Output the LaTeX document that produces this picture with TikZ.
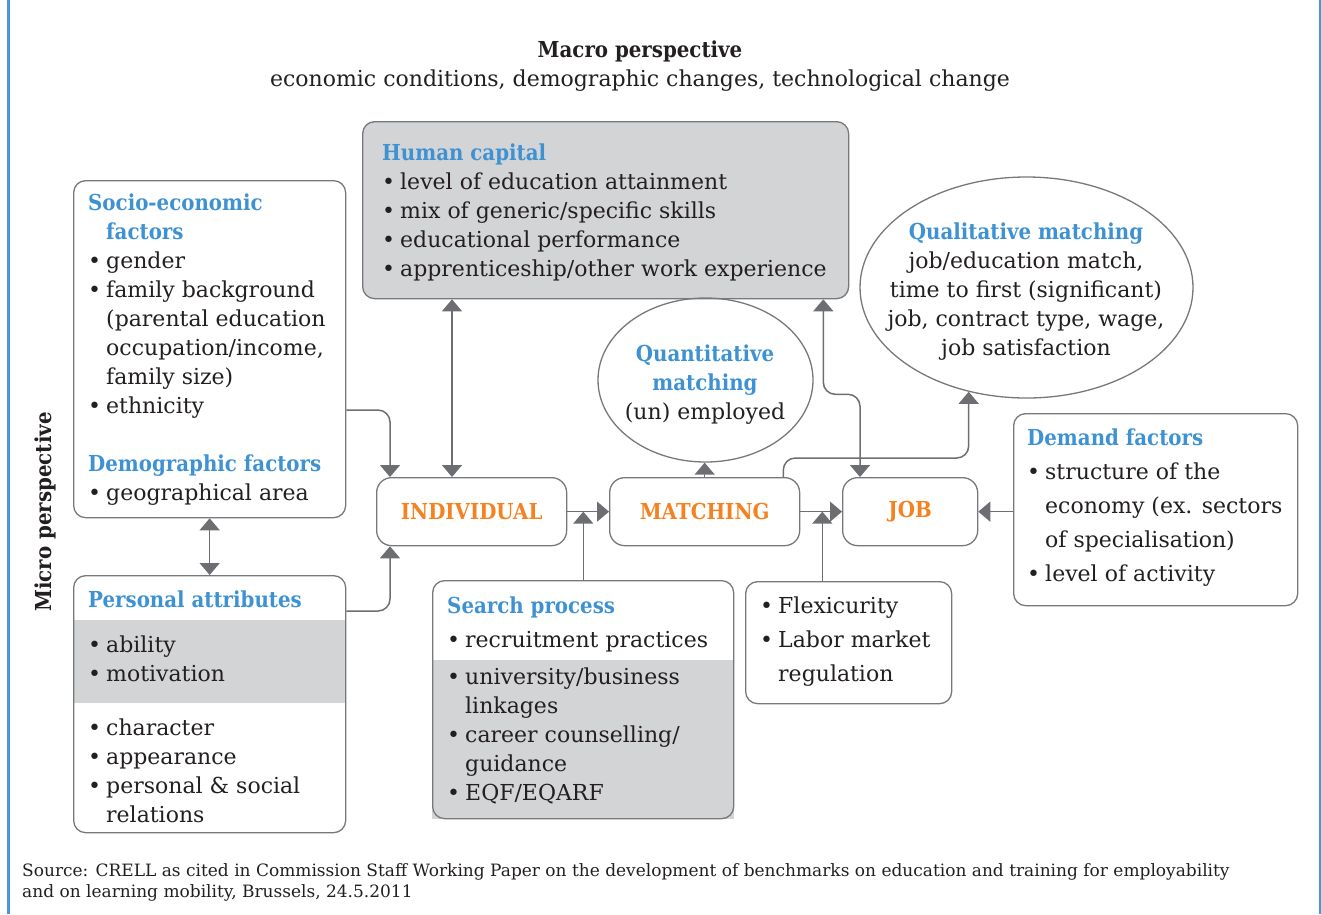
\documentclass[tikz,border=0pt]{standalone}
\usepackage{fontspec}
\setmainfont{DejaVu Serif}
\newfontfamily\hd[FakeStretch=0.9]{DejaVu Serif}
\usetikzlibrary{arrows.meta,shapes.geometric}
\definecolor{hblue}{HTML}{3F92D2}
\definecolor{framblue}{HTML}{4C96D7}
\definecolor{orng}{HTML}{F58220}
\definecolor{bandgray}{HTML}{D3D4D6}
\definecolor{linegray}{HTML}{6D6E71}
\definecolor{bordgray}{HTML}{77787B}
\definecolor{ink}{HTML}{231F20}
% list helpers
\newcommand\itm{\makebox[18pt][l]{\textbullet}}
\newcommand\ind{\hspace*{18pt}}
\newcommand\hdg[1]{{\hd\bfseries\color{hblue}#1}}
\newcommand\lines[1]{\begin{tabular}[t]{@{}l@{}}#1\end{tabular}}
\newcommand\clines[1]{\begin{tabular}[t]{@{}c@{}}#1\end{tabular}}
\begin{document}
\begin{tikzpicture}[x=1pt,y=-1pt,
  >={Triangle[width=20pt,length=12pt]},
  box/.style={draw=bordgray, line width=1.3pt, rounded corners=12pt, inner sep=0pt, anchor=north west},
  mainbox/.style={box, rounded corners=15pt, text=orng, font=\hd\bfseries\fontsize{22}{26}\selectfont},
  oval/.style={ellipse, draw=bordgray, line width=1.3pt, inner sep=0pt},
  conn/.style={draw=linegray, fill=none, line width=1.5pt, rounded corners=12pt},
  txt/.style={inner sep=0pt, anchor=base west, text=ink, font=\fontsize{22}{29}\selectfont},
  wide/.style={font=\fontsize{22}{34}\selectfont},
  ttl/.style={inner sep=0pt, text=ink, font=\hd\bfseries\fontsize{22}{26}\selectfont}]
\useasboundingbox (0,0) rectangle (1321,914);

% page frame
\draw[framblue, line width=3pt] (8,0) -- (8,914);
\draw[framblue, line width=3pt] (1320,0) -- (1320,914);

% headings
\node[ttl, anchor=base] (macro) at (640,57) {Macro perspective};
\node[txt, anchor=base] (macrosub) at (640,86) {economic conditions, demographic changes, technological change};
\node[ttl, rotate=90] (micro) at (45,512) {Micro perspective};

% human capital
\node[box, fill=bandgray, minimum width=486pt, minimum height=177pt] (human) at (362,121) {};
\node[txt] (humanT) at (382,160) {\lines{\hdg{Human capital}\\
  \itm level of education attainment\\
  \itm mix of generic/specific skills\\
  \itm educational performance\\
  \itm apprenticeship/other work experience}};

% socio-economic and demographic factors
\node[box, minimum width=272pt, minimum height=337pt] (socio) at (73,180) {};
\node[txt] (socioT) at (88,210) {\lines{\hdg{Socio-economic}\\
  \ind\hdg{factors}\\
  \itm gender\\
  \itm family background\\
  \ind (parental education\\
  \ind occupation/income,\\
  \ind family size)\\
  \itm ethnicity\\
  \\
  \hdg{Demographic factors}\\
  \itm geographical area}};

% personal attributes
\fill[bandgray] (73,620) rectangle (345,703);
\node[box, minimum width=272pt, minimum height=257pt] (personal) at (73,575) {};
\node[txt] (persH) at (88,607) {\hdg{Personal attributes}};
\node[txt] (persA) at (88,652) {\lines{\itm ability\\ \itm motivation}};
\node[txt] (persB) at (88,735) {\lines{\itm character\\
  \itm appearance\\
  \itm personal \& social\\
  \ind relations}};

% search process
\fill[bandgray] (432,660) rectangle (734,819);
\node[box, minimum width=301pt, minimum height=238pt] (search) at (432,580) {};
\node[txt, wide] (searchA) at (447,613) {\lines{\hdg{Search process}\\ \itm recruitment practices}};
\node[txt] (searchB) at (447,684) {\lines{\itm university/business\\
  \ind linkages\\
  \itm career counselling/\\
  \ind guidance\\
  \itm EQF/EQARF}};

% institutional factors
\node[box, minimum width=206pt, minimum height=122pt] (flex) at (745,581) {};
\node[txt, wide] (flexT) at (760,613) {\lines{\itm Flexicurity\\ \itm Labor market\\ \ind regulation}};

% demand factors
\node[box, minimum width=284pt, minimum height=192pt] (demand) at (1013,413) {};
\node[txt, wide] (demandT) at (1027,445) {\lines{\hdg{Demand factors}\\
  \itm structure of the\\
  \ind economy (ex. sectors\\
  \ind of specialisation)\\
  \itm level of activity}};

% central chain
\node[mainbox, minimum width=190pt, minimum height=68pt] (individual) at (376,477) {INDIVIDUAL};
\node[mainbox, minimum width=190pt, minimum height=68pt] (matching) at (609,477) {MATCHING};
\node[mainbox, minimum width=135pt, minimum height=68pt] (job) at (842,477) {JOB};

% outcomes
\node[oval, minimum width=215pt, minimum height=164pt] (quant) at (705.5,380) {};
\node[txt, anchor=base] (quantT) at (705,361) {\clines{\hdg{Quantitative}\\ \hdg{matching}\\ (un) employed}};
\node[oval, minimum width=333pt, minimum height=221pt] (qual) at (1026.5,287.5) {};
\node[txt, anchor=base] (qualT) at (1026,239) {\clines{\hdg{Qualitative matching}\\
  job/education match,\\
  time to first (significant)\\
  job, contract type, wage,\\
  job satisfaction}};

% connectors
\draw[conn,->] ([yshift=-230pt]socio.north east) -| ([xshift=14pt]individual.north west);
\draw[conn,->] ([yshift=-36pt]personal.north east) -| ([xshift=14pt]individual.south west);
\draw[conn,<->] ([xshift=90pt]human.south west) -- ([xshift=76pt]individual.north west);
\draw[conn,<->] (socio.south) -- (personal.north);
\draw[conn,->] (individual.east) -- (matching.west);
\coordinate (jA) at ([xshift=16pt]individual.east);
\draw[conn,->] (search.north -| jA) -- (jA);
\draw[conn,->] (matching.east) -- (job.west);
\coordinate (jB) at ([xshift=22pt]matching.east);
\draw[conn,->] (flex.north -| jB) -- (jB);
\draw[conn,->] (demand.west |- job.east) -- (job.east);
\draw[conn,->] (matching.north) -- (matching.north |- quant.south);
\draw[conn,->] ([xshift=-17pt]matching.north east) -- ++(0,-19) -| (qual.241);
\draw[conn,<->] ([xshift=-26pt]human.south east) -- ++(0,95) -| ([xshift=18pt]job.north west);

% source line
\node[txt, font=\fontsize{17}{21}\selectfont] (src) at (22,876) {\lines{Source: CRELL as cited in Commission Staff Working Paper on the development of benchmarks on education and training for employability\\
  and on learning mobility, Brussels, 24.5.2011}};
\end{tikzpicture}
\end{document}
